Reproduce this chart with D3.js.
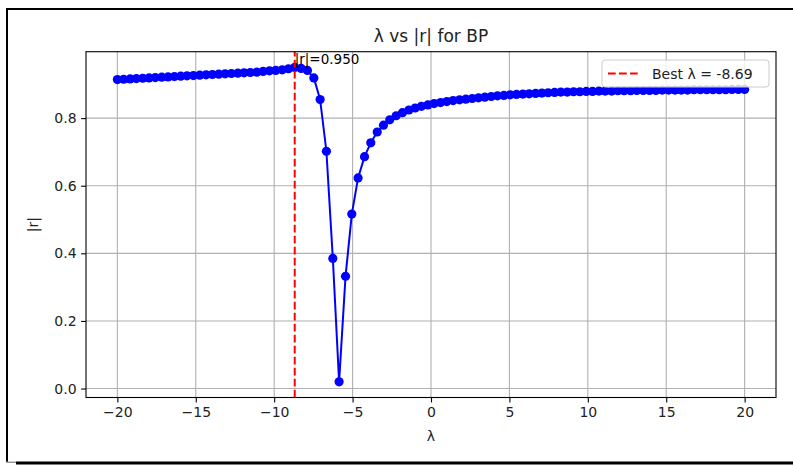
<!DOCTYPE html>
<html>
<head>
<meta charset="utf-8">
<script src="https://cdn.jsdelivr.net/npm/d3@7"></script>
<style>
  body { margin: 0; background: #fff; }
  svg { display: block; font-family: "DejaVu Sans", sans-serif; }
</style>
</head>
<body>
<div id="chart"></div>
<script>
// lambda grid (100 points from -20 to 20)
const lambdas = [
  -20.00, -19.60, -19.19, -18.79, -18.38, -17.98, -17.58, -17.17, -16.77, -16.36,
  -15.96, -15.56, -15.15, -14.75, -14.34, -13.94, -13.54, -13.13, -12.73, -12.32,
  -11.92, -11.52, -11.11, -10.71, -10.30, -9.90, -9.49, -9.09, -8.69, -8.28,
  -7.88, -7.47, -7.07, -6.67, -6.26, -5.86, -5.45, -5.05, -4.65, -4.24,
  -3.84, -3.43, -3.03, -2.63, -2.22, -1.82, -1.41, -1.01, -0.61, -0.20,
  0.20, 0.61, 1.01, 1.41, 1.82, 2.22, 2.63, 3.03, 3.43, 3.84,
  4.24, 4.65, 5.05, 5.45, 5.86, 6.26, 6.67, 7.07, 7.47, 7.88,
  8.28, 8.69, 9.09, 9.49, 9.90, 10.30, 10.71, 11.11, 11.52, 11.92,
  12.32, 12.73, 13.13, 13.54, 13.94, 14.34, 14.75, 15.15, 15.56, 15.96,
  16.36, 16.77, 17.17, 17.58, 17.98, 18.38, 18.79, 19.19, 19.60, 20.00
];

// |r|
const absR = [
  0.914, 0.915, 0.916, 0.917, 0.918, 0.919, 0.920, 0.921, 0.922, 0.923,
  0.924, 0.925, 0.926, 0.927, 0.928, 0.929, 0.930, 0.931, 0.932, 0.933,
  0.934, 0.935, 0.936, 0.938, 0.940, 0.941, 0.943, 0.946, 0.950, 0.947,
  0.941, 0.919, 0.855, 0.702, 0.385, 0.020, 0.332, 0.516, 0.623, 0.686,
  0.727, 0.759, 0.779, 0.795, 0.807, 0.816, 0.824, 0.830, 0.835, 0.839,
  0.843, 0.846, 0.849, 0.852, 0.854, 0.856, 0.858, 0.860, 0.862, 0.864,
  0.866, 0.867, 0.869, 0.870, 0.871, 0.872, 0.873, 0.874, 0.875, 0.876,
  0.877, 0.877, 0.878, 0.878, 0.879, 0.879, 0.880, 0.880, 0.880, 0.881,
  0.881, 0.881, 0.882, 0.882, 0.882, 0.882, 0.883, 0.883, 0.883, 0.883,
  0.883, 0.884, 0.884, 0.884, 0.884, 0.884, 0.884, 0.885, 0.885, 0.885
];

const xTicks = [-20, -15, -10, -5, 0, 5, 10, 15, 20];
const yTicks = [0.0, 0.2, 0.4, 0.6, 0.8];

const titleText = "λ vs |r| for BP";
const xLabel = "λ";
const yLabel = "|r|";

// --- layout ---
const W = 793, H = 466;
const plot = { left: 86, right: 776, top: 51.7, bottom: 397.5 };

const data = lambdas.map((l, i) => ({ lam: l, r: absR[i] }));
const best = data.reduce((a, b) => (b.r > a.r ? b : a));

const svg = d3.select("#chart").append("svg")
  .attr("width", W).attr("height", H);

// figure frame
svg.append("rect").attr("x", 6).attr("y", 8).attr("width", W - 6).attr("height", 2).attr("fill", "#000");
svg.append("rect").attr("x", 6).attr("y", 8).attr("width", 2).attr("height", 454).attr("fill", "#000");
svg.append("rect").attr("x", 6).attr("y", 461.5).attr("width", 10).attr("height", 1.5).attr("fill", "#999");
svg.append("rect").attr("x", 16).attr("y", 461.5).attr("width", W - 16).attr("height", 3).attr("fill", "#000");

// scales with matplotlib-like 5% margins
const xExt = d3.extent(data, d => d.lam);
const yExt = d3.extent(data, d => d.r);
const xPad = (xExt[1] - xExt[0]) * 0.05;
const yPad = (yExt[1] - yExt[0]) * 0.05;

const x = d3.scaleLinear()
  .domain([xExt[0] - xPad, xExt[1] + xPad])
  .range([plot.left, plot.right]);
const y = d3.scaleLinear()
  .domain([yExt[0] - yPad, yExt[1] + yPad])
  .range([plot.bottom, plot.top]);

// grid
const grid = svg.append("g").attr("stroke", "#b0b0b0").attr("stroke-width", 1.1);
grid.selectAll(".gx").data(xTicks).enter().append("line")
  .attr("x1", d => x(d)).attr("x2", d => x(d))
  .attr("y1", plot.top).attr("y2", plot.bottom);
grid.selectAll(".gy").data(yTicks).enter().append("line")
  .attr("y1", d => y(d)).attr("y2", d => y(d))
  .attr("x1", plot.left).attr("x2", plot.right);

// axes
const xAxis = d3.axisBottom(x).tickValues(xTicks).tickFormat(d3.format("d"))
  .tickSizeInner(4.9).tickSizeOuter(0).tickPadding(4.5);
const yAxis = d3.axisLeft(y).tickValues(yTicks).tickFormat(d3.format(".1f"))
  .tickSizeInner(4.9).tickSizeOuter(0).tickPadding(4.5);

const gx = svg.append("g").attr("transform", `translate(0,${plot.bottom})`).call(xAxis);
const gy = svg.append("g").attr("transform", `translate(${plot.left},0)`).call(yAxis);
[gx, gy].forEach(g => {
  g.select(".domain").remove();
  g.selectAll(".tick line").attr("stroke", "#000").attr("stroke-width", 1.1);
  g.selectAll(".tick text").attr("fill", "#222").style("font-size", "14px")
    .style("font-family", "'DejaVu Sans', sans-serif");
});

// data line + markers
const line = d3.line().x(d => x(d.lam)).y(d => y(d.r));
svg.append("path").datum(data)
  .attr("d", line).attr("fill", "none")
  .attr("stroke", "#0000ff").attr("stroke-width", 2).attr("stroke-linejoin", "round");
svg.append("g").selectAll("circle").data(data).enter().append("circle")
  .attr("cx", d => x(d.lam)).attr("cy", d => y(d.r)).attr("r", 4.6)
  .attr("fill", "#0000ff");

// best lambda marker
svg.append("line")
  .attr("x1", x(best.lam)).attr("x2", x(best.lam))
  .attr("y1", plot.bottom).attr("y2", plot.top)
  .attr("stroke", "#ff0000").attr("stroke-width", 2)
  .attr("stroke-dasharray", "7.7,3.3");

svg.append("text")
  .attr("x", x(best.lam)).attr("y", y(best.r + 0.01))
  .style("font-size", "13.5px").attr("fill", "#000")
  .text(`|r|=${best.r.toFixed(3)}`);

// spines
svg.append("rect")
  .attr("x", plot.left).attr("y", plot.top)
  .attr("width", plot.right - plot.left).attr("height", plot.bottom - plot.top)
  .attr("fill", "none").attr("stroke", "#000").attr("stroke-width", 1.1);

// legend
const leg = svg.append("g").attr("transform", "translate(602,60)");
leg.append("rect").attr("width", 167).attr("height", 27).attr("rx", 3)
  .attr("fill", "#fff").attr("fill-opacity", 0.8)
  .attr("stroke", "#cccccc").attr("stroke-width", 1);
leg.append("line").attr("x1", 6).attr("x2", 37).attr("y1", 13.5).attr("y2", 13.5)
  .attr("stroke", "#ff0000").attr("stroke-width", 2).attr("stroke-dasharray", "7.7,3.3");
leg.append("text").attr("x", 50).attr("y", 18.5)
  .style("font-size", "14px").attr("fill", "#222")
  .text(`Best λ = ${best.lam.toFixed(2)}`);

// title and labels
svg.append("text")
  .attr("x", (plot.left + plot.right) / 2).attr("y", 42)
  .attr("text-anchor", "middle").style("font-size", "17px").attr("fill", "#222")
  .text(titleText);
svg.append("text")
  .attr("x", (plot.left + plot.right) / 2).attr("y", 441)
  .attr("text-anchor", "middle").style("font-size", "14px").attr("fill", "#222")
  .text(xLabel);
svg.append("text")
  .attr("transform", `translate(38,${(plot.top + plot.bottom) / 2}) rotate(-90)`)
  .attr("text-anchor", "middle").style("font-size", "14px").attr("fill", "#222")
  .text(yLabel);
</script>
</body>
</html>
